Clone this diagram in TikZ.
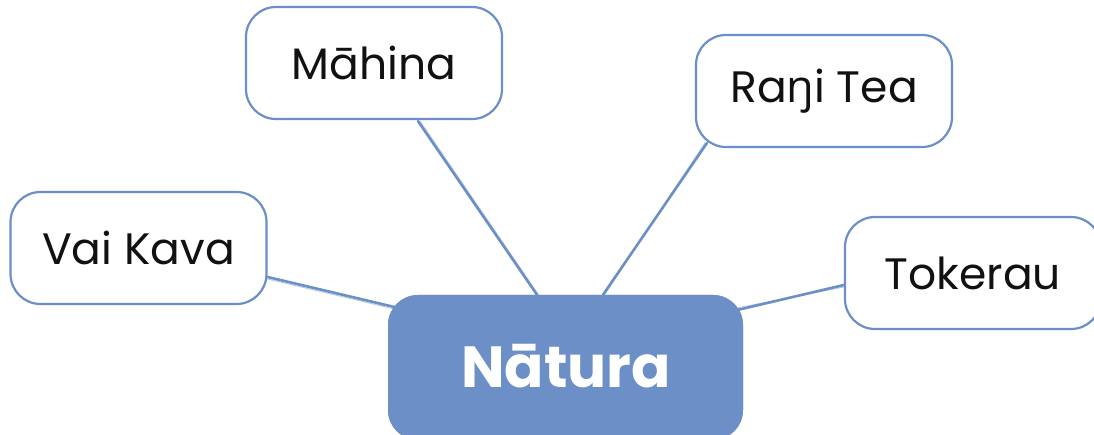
\documentclass[tikz,border=0pt]{standalone}
\usepackage{fontspec}
\setmainfont{Poppins}
\newfontfamily\engfont{Open Sans}
\usetikzlibrary{calc}
\definecolor{bblue}{RGB}{107,143,198}
\definecolor{txt}{RGB}{17,17,17}
\tikzset{
  leaf/.style={draw=bblue, line width=2.2pt, fill=white, rounded corners=30pt,
    minimum width=256pt, minimum height=112pt, inner sep=0pt, text=txt,
    font=\fontsize{44}{52}\selectfont},
  hub/.style={fill=bblue, rounded corners=30pt, minimum width=355pt,
    minimum height=145pt, inner sep=0pt, text=white,
    font=\fontsize{58}{66}\selectfont\bfseries},
  hubtext/.style={text=white, font=\fontsize{58}{66}\selectfont\bfseries},
  link/.style={draw=bblue, line width=2.6pt, line cap=round},
  linkb/.style={draw=bblue, line width=1pt, opacity=0.45, line cap=round}
}
\begin{document}
\begin{tikzpicture}[x=1pt,y=1pt]
\useasboundingbox (0,0) rectangle (1094,-435);
\node[leaf] (mahina) at (374,-63) {Māhina};
\node[leaf] (rangi) at (824,-91) {Ra{\engfont\fontsize{45}{52}\selectfont ŋ}i Tea};
\node[leaf] (vai) at (138.5,-248) {Vai Kava};
\node[leaf] (tok) at (973,-273) {Tokerau};
\node[hub] (natura) at (565.5,-367.5) {};
\node[hubtext] (naturatxt) at (566,-366) {Nātura};
% connectors
\draw[link] ($(mahina.south)+(44,-1)$) -- ($(natura.north)+(-28.5,0)$);
\draw[linkb] ($(mahina.south)+(46,-1)$) -- ($(natura.north)+(-27,0)$);
\draw[link] ($(rangi.south west)+(12,5)$) -- ($(natura.north)+(37.5,0)$);
\draw[linkb] ($(rangi.south west)+(10,5)$) -- ($(natura.north)+(39,0)$);
\draw[link] ($(vai.east)+(0,-29)$) -- ($(natura.north west)+(10,-13)$);
\draw[linkb] ($(vai.east)+(0,-31)$) -- ($(natura.north west)+(10,-15)$);
\draw[link] ($(tok.west)+(0,-12)$) -- ($(natura.north east)+(-5,-15)$);
\draw[linkb] ($(tok.west)+(0,-14)$) -- ($(natura.north east)+(-5,-13)$);
% redraw hub over link ends
\node[hub] at (natura) {};
\node[hubtext] at (naturatxt) {Nātura};
\end{tikzpicture}
\end{document}
